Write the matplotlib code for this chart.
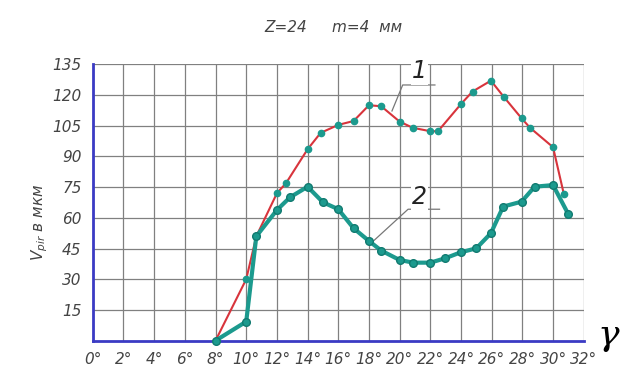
import matplotlib
matplotlib.use("Agg")
from matplotlib import pyplot as plt

# curve 1 (red thin line)
x1 = [8, 10, 10.66, 12, 12.6, 14, 14.85, 16, 17, 18, 18.8, 20, 20.85, 22, 22.5,
      24, 24.75, 25.95, 26.8, 27.95, 28.5, 30, 30.7]
y1 = [0, 30, 51, 72, 77, 93.5, 101.5, 105.4, 107.3, 115, 114.5, 107, 104, 102.3, 102.3,
      115.6, 121.7, 127, 119, 108.6, 104, 94.5, 71.7]

# curve 2 (thick teal line)
x2 = [8, 10, 10.66, 12, 12.85, 14, 15, 16, 17, 18, 18.8, 20, 20.9, 22, 22.95,
      24, 25, 25.95, 26.75, 27.95, 28.8, 30, 31]
y2 = [0, 9.3, 51, 63.8, 70, 75.2, 67.6, 64.2, 54.9, 48.7, 44, 39.4, 38.1, 38.1, 40.2,
      43.2, 45.1, 52.5, 65.5, 67.9, 75.2, 76, 61.7]

xticks = list(range(0, 33, 2))
yticks = list(range(15, 136, 15))

red = "#d8343c"
teal = "#1c9a8e"
blue = "#3b3bc4"
fnt = ["Liberation Sans Narrow", "DejaVu Sans"]
txt = "#444444"

fig = plt.figure(figsize=(6.27, 3.76), dpi=100)
ax = fig.add_axes([0.148, 0.094, 0.783, 0.735])

ax.set_xlim(0, 32)
ax.set_ylim(0, 135)
ax.set_xticks(xticks)
ax.set_yticks(yticks)
ax.grid(True, color="#808080", linewidth=0.9)
ax.set_axisbelow(True)
ax.tick_params(length=0, pad=8)
ax.set_xticklabels(["{}°".format(v) for v in xticks], fontstyle="italic",
                   family=fnt, fontsize=11, color=txt)
ax.set_yticklabels([str(v) for v in yticks], fontstyle="italic",
                   family=fnt, fontsize=11, color=txt)

for s in ["top", "right"]:
    ax.spines[s].set_visible(False)
ax.spines["left"].set_color(blue)
ax.spines["bottom"].set_color(blue)
ax.spines["left"].set_linewidth(2)
ax.spines["bottom"].set_linewidth(2)

# curves
ax.plot(x1, y1, color=red, linewidth=1.5, marker="o", markersize=4.5,
        markerfacecolor=teal, markeredgecolor=teal, zorder=3, clip_on=False)
ax.plot(x2, y2, color=teal, linewidth=3, marker="o", markersize=5.5,
        markerfacecolor=teal, markeredgecolor="#117a70", zorder=4, clip_on=False)

# leaders and curve numbers
ax.plot([19.5, 20.2, 22.3], [112.2, 124.9, 124.9], color="#777777", linewidth=0.9, zorder=3)
ax.text(21.3, 131.5, "1", fontsize=17, fontstyle="italic", family=fnt, ha="center",
        va="center", color="#222222",
        bbox=dict(facecolor="white", edgecolor="none", pad=1), zorder=5)
ax.plot([18.25, 20.55, 22.6], [48.4, 64.2, 64.2], color="#777777", linewidth=0.9, zorder=3)
ax.text(21.3, 70.0, "2", fontsize=17, fontstyle="italic", family=fnt, ha="center",
        va="center", color="#222222",
        bbox=dict(facecolor="white", edgecolor="none", pad=1), zorder=5)

# titles and labels
fig.text(0.455, 0.928, "Z=24", fontsize=11, fontstyle="italic", family=fnt,
         ha="center", va="center", color=txt)
fig.text(0.585, 0.928, "m=4  мм", fontsize=11, fontstyle="italic", family=fnt,
         ha="center", va="center", color=txt)
fig.text(0.063, 0.41, r"$V_{pir}$ в мкм", fontsize=11, fontstyle="italic", family=fnt,
         rotation=90, ha="center", va="center", color=txt)
fig.text(0.97, 0.11, "γ", fontsize=26, fontstyle="italic",
         ha="center", va="center", family="DejaVu Serif")

plt.savefig("out.png", dpi=100)
